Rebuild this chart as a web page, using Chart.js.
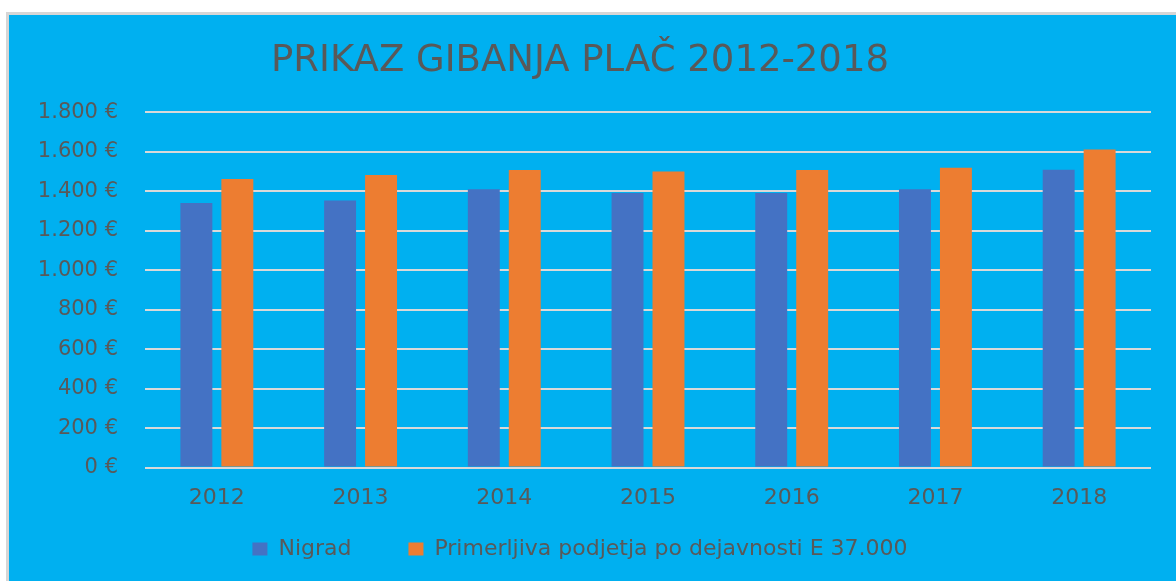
<!DOCTYPE html>
<html>
<head>
<meta charset="utf-8">
<script src="https://cdn.jsdelivr.net/npm/chart.js@4.4.0/dist/chart.umd.min.js"></script>
<style>
  html, body { margin: 0; padding: 0; background: #ffffff; }
  body { width: 1176px; height: 581px; position: relative; overflow: hidden; }
  .frame {
    position: absolute; left: 6px; top: 12px; width: 1170px; height: 569px;
    border-top: 3px solid #d6d6d6; border-left: 3px solid #d6d6d6;
    background: #00b0f0; box-sizing: border-box;
  }
  #plac { position: absolute; left: 0; top: 0; }
</style>
</head>
<body>
<div class="frame">
  <canvas id="plac" width="1167" height="566"></canvas>
</div>
<script>
// data
var years = ['2012', '2013', '2014', '2015', '2016', '2017', '2018'];
var nigrad = [1341, 1353, 1410, 1391, 1391, 1410, 1510];
var primerljiva = [1462, 1483, 1508, 1500, 1508, 1520, 1612];
var seriesNames = ['Nigrad', 'Primerljiva podjetja po dejavnosti E 37.000'];

var textColor = '#595959',
    fontName = "'DejaVu Sans', sans-serif";

function euro(v) {
	var s = String(v).replace(/\B(?=(\d{3})+(?!\d))/g, '.');
	return s + ' €';
}

// legend keeps its wide gap between items, but sits closer to the axis labels
var legendLift = {
	id: 'legendLift',
	afterLayout: function(chart) {
		var lg = chart.legend;
		if (!lg) return;
		lg.top = 466;
		lg.bottom = chart.height;
	}
};

var config = {
	type: 'bar',
	data: {
		labels: years,
		datasets: [{
			label: seriesNames[0],
			data: nigrad,
			backgroundColor: '#4472c4'
		}, {
			label: seriesNames[1],
			data: primerljiva,
			backgroundColor: '#ed7d31'
		}]
	},
	options: {
		responsive: false,
		animation: false,
		devicePixelRatio: 1,
		categoryPercentage: 0.57,
		barPercentage: 0.78,
		layout: { padding: { left: 0, right: 25, top: 0, bottom: 11 } },
		plugins: {
			title: {
				display: true,
				text: 'PRIKAZ GIBANJA PLAČ 2012-2018',
				color: textColor,
				font: { family: fontName, size: 37, weight: 'normal' },
				padding: { top: 24, bottom: 29 }
			},
			legend: {
				position: 'bottom',
				maxHeight: 50,
				labels: {
					color: textColor,
					font: { family: fontName, size: 22 },
					boxWidth: 15,
					boxHeight: 13,
					padding: 57
				}
			},
			tooltip: { enabled: false }
		},
		scales: {
			x: {
				grid: { display: false },
				border: { display: false },
				ticks: {
					color: textColor,
					font: { family: fontName, size: 22 },
					padding: 9
				}
			},
			y: {
				min: 0,
				max: 1800,
				afterFit: function(scale) { scale.width = 136; },
				grid: { color: '#d9d9d9', lineWidth: 2, drawTicks: false },
				border: { display: false },
				ticks: {
					stepSize: 200,
					color: textColor,
					font: { family: fontName, size: 21 },
					padding: 27,
					callback: function(v) { return euro(v); }
				}
			}
		}
	},
	plugins: [legendLift]
};

var graph = new Chart(document.getElementById('plac'), config);
</script>
</body>
</html>
